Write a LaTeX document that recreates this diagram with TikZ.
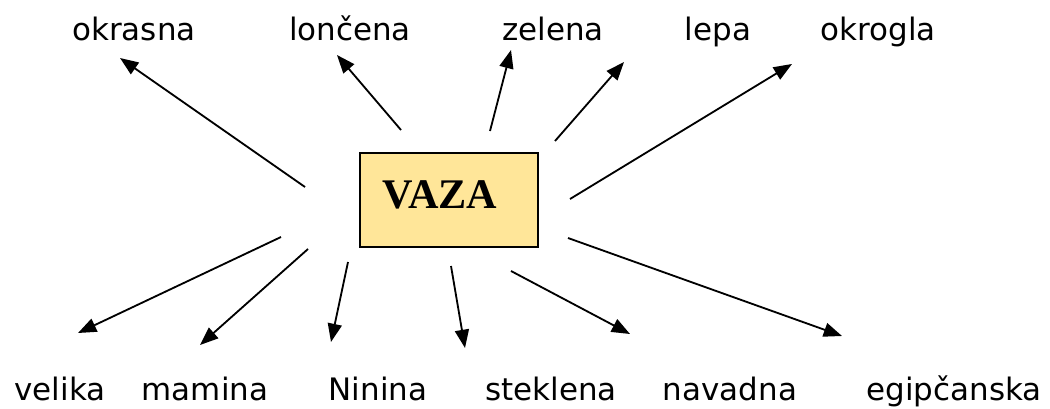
\documentclass[tikz,border=0pt]{standalone}
\usepackage{fontspec}
\setmainfont{DejaVu Sans}
\newfontfamily\vazafont{Liberation Serif}
\usetikzlibrary{arrows.meta}
\definecolor{vazafill}{RGB}{255,230,153}
\begin{document}
\begin{tikzpicture}[x=0.025cm,y=-0.025cm,
	word/.style={anchor=base,font=\fontsize{22}{26}\selectfont,inner sep=0pt},
	arr/.style={line width=1.3pt,-{Triangle[length=13pt,width=10pt]}}]
	\useasboundingbox (0,0) rectangle (1050,408);

	%centre box
	\node [draw=black,line width=1.4pt,fill=vazafill,minimum width=178*0.025cm,minimum height=94*0.025cm,inner sep=0pt] (vaza) at (449,200) {};
	\node [font=\vazafont\bfseries\fontsize{30}{34}\selectfont,inner sep=0pt] (vazatext) at (440,195) {VAZA};

	%top words
	\node [word] (w1) at (134,40) {okrasna};
	\node [word] (w2) at (350,40) {lončena};
	\node [word] (w3) at (553,40) {zelena};
	\node [word] (w4) at (718,40) {lepa};
	\node [word] (w5) at (878,40) {okrogla};

	%bottom words
	\node [word] (w6) at (60,400) {velika};
	\node [word] (w7) at (205,400) {mamina};
	\node [word] (w8) at (378,400) {Ninina};
	\node [word] (w9) at (551,400) {steklena};
	\node [word] (w10) at (730,400) {navadna};
	\node [word] (w11) at (954,400) {egipčanska};

	%arrow ends
	\coordinate (s1) at (305,187);  \coordinate (t1) at (120,58);
	\coordinate (s2) at (401,130);  \coordinate (t2) at (337,55);
	\coordinate (s3) at (490,131);  \coordinate (t3) at (511,50);
	\coordinate (s4) at (555,141);  \coordinate (t4) at (624,62);
	\coordinate (s5) at (570,199);  \coordinate (t5) at (792,64);
	\coordinate (s6) at (281,237);  \coordinate (t6) at (78,333);
	\coordinate (s7) at (308,249);  \coordinate (t7) at (200,345);
	\coordinate (s8) at (348,262);  \coordinate (t8) at (331,342);
	\coordinate (s9) at (451,266);  \coordinate (t9) at (465,348);
	\coordinate (s10) at (511,271); \coordinate (t10) at (630,334);
	\coordinate (s11) at (568,238); \coordinate (t11) at (842,336);

	%arrows
	\foreach \i in {1,...,11}
		\draw [arr] (s\i) -- (t\i);
\end{tikzpicture}
\end{document}
